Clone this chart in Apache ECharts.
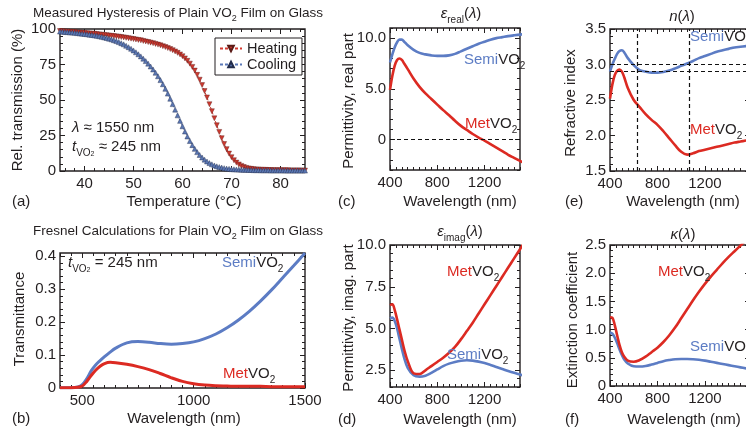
<!DOCTYPE html>
<html><head><meta charset="utf-8">
<script src="https://cdn.jsdelivr.net/npm/echarts@6/dist/echarts.min.js"></script>
<style>html,body{margin:0;padding:0;background:#fff}#c{width:746px;height:432px}</style>
</head><body><div id="c"></div>
<script>
const FONT = '"Liberation Sans", Arial, Helvetica, sans-serif';
const RED = '#dc2a22', BLUE = '#5c7cc4', INK = '#231f20';

// ---------- Panel (a): measured hysteresis ----------
const tempC = [35,35.5,36,36.5,37,37.5,38,38.5,39,39.5,40,40.5,41,41.5,42,42.5,43,43.5,44,44.5,
  45,45.5,46,46.5,47,47.5,48,48.5,49,49.5,50,50.5,51,51.5,52,52.5,53,53.5,54,54.5,
  55,55.5,56,56.5,57,57.5,58,58.5,59,59.5,60,60.5,61,61.5,62,62.5,63,63.5,64,64.5,
  65,65.5,66,66.5,67,67.5,68,68.5,69,69.5,70,70.5,71,71.5,72,72.5,73,73.5,74,74.5,
  75,75.5,76,76.5,77,77.5,78,78.5,79,79.5,80,80.5,81,81.5,82,82.5,83,83.5,84,84.5,85];
const heating = [98.6,98.4,98.3,98.2,98.0,97.9,97.8,97.6,97.5,97.3,
  97.2,97.0,96.9,96.7,96.6,96.4,96.2,96.0,95.8,95.6,
  95.4,95.2,95.0,94.8,94.6,94.3,94.1,93.8,93.5,93.2,
  92.9,92.6,92.3,92.0,91.6,91.2,90.8,90.4,90.0,89.5,
  89.0,88.5,87.9,87.3,86.6,85.9,85.1,84.2,83.2,82.1,
  80.8,79.3,77.6,75.6,73.3,70.7,67.7,64.3,60.5,56.3,
  51.8,47.0,42.1,37.1,32.2,27.5,23.1,19.0,15.4,12.3,
  9.7,7.6,5.9,4.6,3.6,2.8,2.2,1.8,1.5,1.3,
  1.1,1.0,0.9,0.8,0.8,0.7,0.7,0.6,0.6,0.6,
  0.5,0.5,0.5,0.5,0.4,0.4,0.4,0.4,0.4,0.3,0.3];
const cooling = [98.2,98.1,97.9,97.8,97.6,97.5,97.3,97.1,96.9,96.7,
  96.5,96.3,96.0,95.8,95.5,95.2,94.9,94.5,94.1,93.7,
  93.2,92.7,92.1,91.5,90.8,90.0,89.2,88.2,87.2,86.1,
  84.9,83.6,82.2,80.7,79.1,77.4,75.6,73.6,71.5,69.2,
  66.7,64.0,61.1,57.9,54.5,50.9,47.1,43.2,39.2,35.3,
  31.5,27.8,24.3,21.1,18.2,15.6,13.3,11.3,9.5,8.0,
  6.7,5.6,4.7,3.9,3.3,2.8,2.4,2.0,1.7,1.5,
  1.3,1.2,1.1,1.0,0.9,0.8,0.8,0.7,0.7,0.6,
  0.6,0.6,0.5,0.5,0.5,0.5,0.4,0.4,0.4,0.4,
  0.4,0.4,0.3,0.3,0.3,0.3,0.3,0.3,0.3,0.3,0.3];
const aXTicks = [40,50,60,70,80];
const aYTicks = [0,25,50,75,100];

// ---------- Panel (b): Fresnel transmittance ----------
const wlB = [400,450,480,500,520,540,560,580,600,625,650,700,750,800,850,900,950,1000,1050,1100,1150,1200,1250,1300,1350,1400,1450,1500];
const semiT = [0.001,0.001,0.003,0.010,0.028,0.052,0.070,0.083,0.095,0.109,0.121,0.137,0.141,0.139,0.135,0.133,0.135,0.140,0.150,0.164,0.183,0.206,0.233,0.264,0.298,0.335,0.372,0.410];
const metT  = [0.001,0.001,0.002,0.006,0.020,0.038,0.054,0.066,0.074,0.078,0.077,0.072,0.065,0.056,0.044,0.031,0.020,0.013,0.009,0.007,0.006,0.005,0.005,0.005,0.004,0.004,0.004,0.004];
const bXTicks = [500,1000,1500];
const bYTicks = [0,0.1,0.2,0.3,0.4];

// ---------- Panels (c)-(f): optical constants ----------
const wl = [400,420,440,460,480,500,520,550,600,650,700,750,800,850,900,950,1000,1050,1100,1150,1200,1250,1300,1350,1400,1450,1500,1550];
const semiEpsRe = [7.6,8.4,9.1,9.6,9.85,9.85,9.65,9.3,8.85,8.55,8.4,8.3,8.25,8.25,8.3,8.45,8.7,8.95,9.2,9.45,9.65,9.85,10.0,10.1,10.2,10.28,10.35,10.4];
const metEpsRe  = [4.9,6.3,7.3,7.85,8.0,7.85,7.5,6.95,6.0,5.2,4.55,4.0,3.45,2.9,2.4,1.85,1.35,0.95,0.55,0.2,-0.1,-0.45,-0.8,-1.15,-1.5,-1.8,-2.1,-2.4];
const semiEpsIm = [5.6,5.65,5.45,5.0,4.4,3.8,3.25,2.65,2.2,2.12,2.18,2.35,2.55,2.75,2.9,3.0,3.07,3.1,3.08,3.02,2.93,2.82,2.7,2.58,2.46,2.35,2.25,2.15];
const metEpsIm  = [6.4,6.45,6.1,5.55,4.95,4.35,3.75,3.05,2.32,2.28,2.5,2.75,3.0,3.25,3.55,3.9,4.35,4.85,5.35,5.9,6.45,7.0,7.55,8.1,8.65,9.2,9.75,10.3];
const semiN = [2.9,3.0,3.08,3.15,3.19,3.2,3.17,3.09,2.99,2.92,2.9,2.885,2.885,2.895,2.915,2.945,2.98,3.015,3.05,3.09,3.12,3.15,3.18,3.2,3.22,3.24,3.25,3.26];
const metN  = [2.52,2.72,2.85,2.91,2.93,2.9,2.82,2.67,2.5,2.4,2.3,2.22,2.15,2.06,1.96,1.86,1.77,1.73,1.75,1.78,1.8,1.82,1.84,1.86,1.88,1.9,1.915,1.93];
const semiK = [0.95,0.93,0.86,0.76,0.65,0.55,0.47,0.40,0.35,0.345,0.355,0.38,0.41,0.44,0.46,0.475,0.48,0.48,0.475,0.465,0.45,0.43,0.41,0.39,0.37,0.35,0.33,0.31];
const metK  = [1.22,1.21,1.08,0.9,0.73,0.6,0.52,0.45,0.43,0.46,0.52,0.6,0.68,0.78,0.9,1.04,1.2,1.36,1.52,1.67,1.81,1.94,2.06,2.18,2.29,2.39,2.49,2.59];
const laserWl = [633, 1064];
const nMarks = [3.01, 2.9];
const wlTicks = [400,800,1200];
const cYTicks = [0,5,10];
const dYTicks = [2.5,5,7.5,10];
const eYTicks = [1.5,2,2.5,3,3.5];
const fYTicks = [0,0.5,1,1.5,2,2.5];

// ---------- helpers ----------
function zip(xs, ys){ return xs.map((x,i)=>[x, ys[i]]); }
function steps(a, b, s){ const o=[]; for(let v=a; v<=b+1e-9; v+=s) o.push(Math.round(v*1000)/1000); return o; }

const grids = [
  {left:60, top:29, width:245, height:142},
  {left:60, top:253, width:245, height:135},
  {left:390, top:28, width:130, height:142},
  {left:390, top:245, width:130, height:142},
  {left:610, top:29, width:140, height:142},
  {left:610, top:245, width:140, height:141}
].map(g => Object.assign({show:true, borderColor:INK, borderWidth:1.4, backgroundColor:'rgba(0,0,0,0)', containLabel:false, outerBoundsMode:'none'}, g));

const xAxes = [], yAxes = [];
function mkAxes(list, dim, gi, min, max, majors, minors, fmt){
  const sides = dim==='x' ? ['bottom','top'] : ['left','right'];
  const first = list.length;
  sides.forEach((pos, si) => {
    const common = {type:'value', gridIndex:gi, min, max, position:pos,
      axisLine:{show:false, onZero:false}, splitLine:{show:false}, minorTick:{show:false}};
    list.push(Object.assign({}, common, {
      axisTick:{show:true, inside:true, length:5, lineStyle:{color:INK, width:1}, customValues:majors},
      axisLabel:{show:si===0, customValues:majors, formatter:fmt, fontSize:15, fontFamily:FONT, color:INK,
        margin: dim==='x' ? 5 : 4}
    }));
    list.push(Object.assign({}, common, {
      axisTick:{show:true, inside:true, length:3, lineStyle:{color:INK, width:1}, customValues:minors},
      axisLabel:{show:false}
    }));
  });
  return first;
}
const fInt = v => String(v);
const f1 = v => v===0 ? '0' : v.toFixed(1);
const fB = v => v===0 ? '0' : String(v);

const ax = [];
ax.push([mkAxes(xAxes,'x',0,35,85,aXTicks,steps(36,84,2),fInt), mkAxes(yAxes,'y',0,0,100,aYTicks,steps(0,100,5),fInt)]);
ax.push([mkAxes(xAxes,'x',1,400,1500,bXTicks,steps(400,1500,50),fInt), mkAxes(yAxes,'y',1,0,0.41,bYTicks,steps(0,0.4,0.02),fB)]);
ax.push([mkAxes(xAxes,'x',2,400,1500,wlTicks,steps(400,1500,50),fInt), mkAxes(yAxes,'y',2,-3,11,cYTicks,steps(-3,11,1),f1)]);
ax.push([mkAxes(xAxes,'x',3,400,1500,wlTicks,steps(400,1500,50),fInt), mkAxes(yAxes,'y',3,1.5,10,dYTicks,steps(1.5,10,0.5),f1)]);
ax.push([mkAxes(xAxes,'x',4,400,1580,wlTicks,steps(400,1550,50),fInt), mkAxes(yAxes,'y',4,1.5,3.5,eYTicks,steps(1.5,3.5,0.1),f1)]);
ax.push([mkAxes(xAxes,'x',5,400,1580,wlTicks,steps(400,1550,50),fInt), mkAxes(yAxes,'y',5,0,2.5,fYTicks,steps(0,2.5,0.1),f1)]);

const dashStyle = {type:[4,3], color:'#111', width:1.2};
function curve(p, xs, ys, color, extra){
  return Object.assign({type:'line', xAxisIndex:ax[p][0], yAxisIndex:ax[p][1], data:zip(xs,ys),
    showSymbol:false, symbol:'none', smooth:0.35, clip:true, silent:true,
    lineStyle:{color, width:2.6}, itemStyle:{color}, z:3}, extra||{});
}

const series = [
  {name:'Heating', type:'line', xAxisIndex:ax[0][0], yAxisIndex:ax[0][1], data:zip(tempC,heating),
   symbol:'triangle', symbolRotate:180, symbolSize:5, showAllSymbol:true,
   lineStyle:{color:'#d43a30', width:1, type:[3,2]}, itemStyle:{color:'#cc3a30', borderColor:'#5a1a16', borderWidth:0.4}, z:3},
  {name:'Cooling', type:'line', xAxisIndex:ax[0][0], yAxisIndex:ax[0][1], data:zip(tempC,cooling),
   symbol:'triangle', symbolSize:5, showAllSymbol:true,
   lineStyle:{color:'#5a78b8', width:1, type:[3,2]}, itemStyle:{color:'#5a76b2', borderColor:'#222c4a', borderWidth:0.4}, z:4},
  curve(1, wlB, semiT, BLUE, {lineStyle:{color:BLUE, width:3}}),
  curve(1, wlB, metT, RED, {lineStyle:{color:RED, width:3}}),
  curve(2, wl, semiEpsRe, BLUE, {markLine:{silent:true, symbol:['none','none'], label:{show:false}, lineStyle:dashStyle, data:[{yAxis:0}], animation:false}}),
  curve(2, wl, metEpsRe, RED),
  curve(3, wl, semiEpsIm, BLUE),
  curve(3, wl, metEpsIm, RED),
  curve(4, wl, semiN, BLUE, {markLine:{silent:true, symbol:['none','none'], label:{show:false}, lineStyle:dashStyle,
     data:[{xAxis:laserWl[0]},{xAxis:laserWl[1]},{yAxis:nMarks[0]},{yAxis:nMarks[1]}], animation:false}}),
  curve(4, wl, metN, RED),
  curve(5, wl, semiK, BLUE),
  curve(5, wl, metK, RED)
];

// ---------- texts ----------
const RICH = {
  n:{fontSize:15, fontFamily:FONT, fill:INK, color:INK, lineHeight:22},
  gi:{fontSize:15, fontFamily:FONT, fontStyle:'italic', fill:INK, color:INK, lineHeight:22},
  s:{fontSize:10, fontFamily:FONT, fill:INK, color:INK, lineHeight:10, verticalAlign:'bottom'},
  ss:{fontSize:7, fontFamily:FONT, fill:INK, color:INK, lineHeight:4, verticalAlign:'bottom'},
  sb:{fontSize:15, fontFamily:FONT, fill:BLUE, color:BLUE, lineHeight:22},
  sr:{fontSize:15, fontFamily:FONT, fill:RED, color:RED, lineHeight:22},
  tn:{fontSize:13.5, fontFamily:FONT, fill:INK, color:INK, lineHeight:20},
  ts:{fontSize:9, fontFamily:FONT, fill:INK, color:INK, lineHeight:9, verticalAlign:'bottom'}
};
function T(x, y, text, align, rot){
  return {type:'text', x, y, rotation:rot||0, z:100, silent:true,
    style:{text, rich:RICH, fill:INK, fontSize:15, fontFamily:FONT, align:align||'left', verticalAlign:'middle'}};
}
const semiLbl = '{sb|Semi}{n|VO}{s|2}';
const metLbl = '{sr|Met}{n|VO}{s|2}';
const R = Math.PI/2;
const graphic = [
  T(33,13,'{tn|Measured Hysteresis of Plain VO}{ts|2}{tn| Film on Glass}'),
  T(33,231,'{tn|Fresnel Calculations for Plain VO}{ts|2}{tn| Film on Glass}'),
  T(461,14,'{gi|ε}{s|real}{n|(}{gi|λ}{n|)}','center'),
  T(460,232,'{gi|ε}{s|imag}{n|(}{gi|λ}{n|)}','center'),
  T(682,17,'{gi|n}{n|(}{gi|λ}{n|)}','center'),
  T(683,235,'{gi|κ}{n|(}{gi|λ}{n|)}','center'),
  // x-axis names and panel letters
  T(184,202,'{n|Temperature (°C)}','center'), T(12,202,'{n|(a)}'),
  T(184,419,'{n|Wavelength (nm)}','center'), T(12,419,'{n|(b)}'),
  T(460,202,'{n|Wavelength (nm)}','center'), T(338,202,'{n|(c)}'),
  T(460,420,'{n|Wavelength (nm)}','center'), T(338,420,'{n|(d)}'),
  T(683,202,'{n|Wavelength (nm)}','center'), T(565,202,'{n|(e)}'),
  T(684,420,'{n|Wavelength (nm)}','center'), T(565,420,'{n|(f)}'),
  // y-axis names
  T(18,100,'{n|Rel. transmission (%)}','center',R),
  T(20,319,'{n|Transmittance}','center',R),
  T(349,101,'{n|Permittivity, real part}','center',R),
  T(349,318,'{n|Permittivity, imag. part}','center',R),
  T(571,103,'{n|Refractive index}','center',R),
  T(573,320,'{n|Extinction coefficient}','center',R),
  // annotations
  T(72,128,'{gi|λ}{n| ≈ 1550 nm}'),
  T(72,147,'{gi|t}{s|VO}{ss|2}{n| ≈ 245 nm}'),
  T(68,263,'{gi|t}{s|VO}{ss|2}{n| = 245 nm}'),
  T(222,263,semiLbl), T(223,374,metLbl),
  T(464,60,semiLbl), T(465,124,metLbl),
  T(447,272,metLbl), T(447,355,semiLbl),
  T(690,37,semiLbl), T(690,130,metLbl),
  T(658,272,metLbl), T(690,347,semiLbl)
];

const chart = echarts.init(document.getElementById('c'), null, {renderer:'canvas'});
chart.setOption({
  animation:false,
  backgroundColor:'#fff',
  textStyle:{fontFamily:FONT},
  grid:grids, xAxis:xAxes, yAxis:yAxes, series, graphic,
  legend:{data:['Heating','Cooling'], orient:'vertical', left:215, top:38, padding:[3,5,3,4], itemGap:1,
    itemWidth:22, itemHeight:7, borderColor:INK, borderWidth:1, backgroundColor:'#fff',
    textStyle:{fontSize:14.5, fontFamily:FONT, color:INK}, selectedMode:false}
});
</script></body></html>
